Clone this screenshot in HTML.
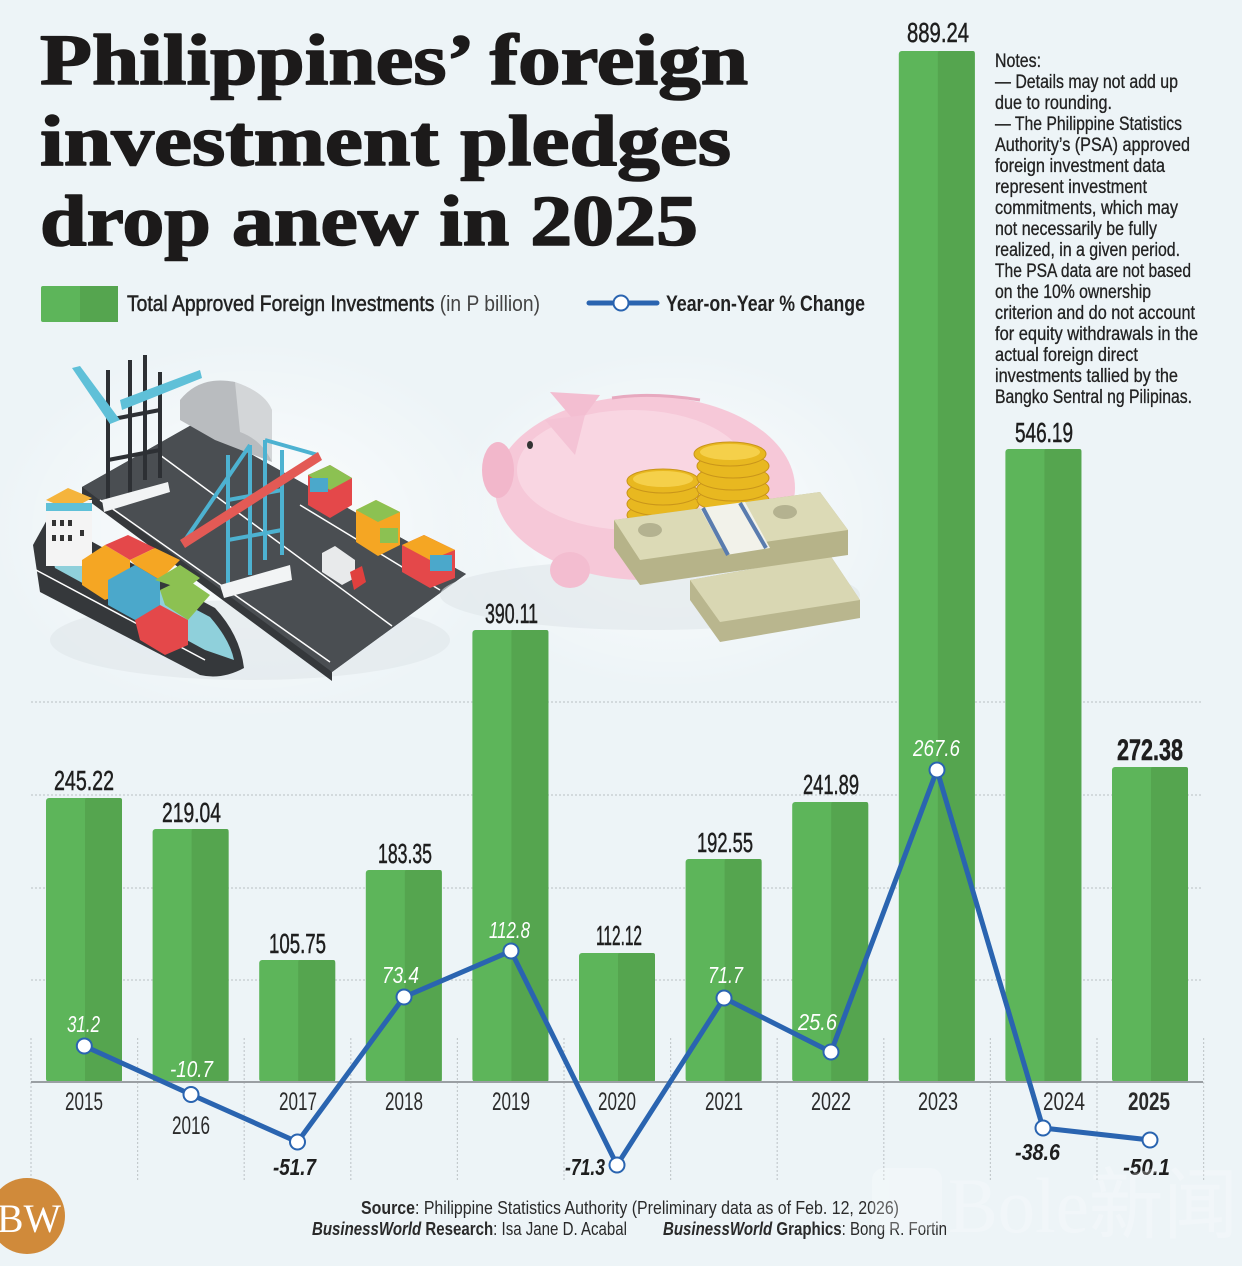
<!DOCTYPE html>
<html><head><meta charset="utf-8"><style>
html,body{margin:0;padding:0;background:#edf4f7;}
svg{display:block;}
.c{font-family:"Liberation Sans Narrow","Liberation Sans",sans-serif;}
</style></head><body>
<svg width="1242" height="1266" viewBox="0 0 1242 1266" xmlns="http://www.w3.org/2000/svg">
<defs>
<radialGradient id="glow" cx="50%" cy="50%" r="50%">
<stop offset="0" stop-color="#ffffff" stop-opacity="0.85"/>
<stop offset="1" stop-color="#ffffff" stop-opacity="0"/>
</radialGradient>
</defs>
<rect width="1242" height="1266" fill="#edf4f7"/>
<ellipse cx="250" cy="530" rx="260" ry="190" fill="url(#glow)"/>
<ellipse cx="670" cy="520" rx="230" ry="170" fill="url(#glow)"/>

<!-- Title -->
<g font-family="'Liberation Serif',serif" font-weight="bold" font-size="72" fill="#1c1a1a" stroke="#1c1a1a" stroke-width="1.6" stroke-linejoin="round">
<text x="40" y="84" textLength="708" lengthAdjust="spacingAndGlyphs">Philippines’ foreign</text>
<text x="40" y="165" textLength="691" lengthAdjust="spacingAndGlyphs">investment pledges</text>
<text x="40" y="245" textLength="658" lengthAdjust="spacingAndGlyphs">drop anew in 2025</text>
</g>

<!-- Legend -->
<rect x="41" y="286" width="77" height="36" rx="2" fill="#5db55a"/>
<rect x="80" y="286" width="38" height="36" fill="#55a54f"/>
<text class="c" x="127" y="311" font-size="22" fill="#222" textLength="413" lengthAdjust="spacingAndGlyphs"><tspan stroke="#222" stroke-width="0.5">Total Approved Foreign Investments </tspan><tspan fill="#444">(in P billion)</tspan></text>
<line x1="589" y1="303" x2="657" y2="303" stroke="#2a64b0" stroke-width="5" stroke-linecap="round"/>
<circle cx="621" cy="303" r="7.5" fill="#fff" stroke="#2a64b0" stroke-width="2"/>
<text class="c" x="666" y="311" font-size="22" font-weight="bold" fill="#222" textLength="199" lengthAdjust="spacingAndGlyphs">Year-on-Year % Change</text>

<!-- Notes -->
<g class="c" font-size="19" fill="#222" stroke="#222" stroke-width="0.3">
<text x="995" y="67" textLength="46" lengthAdjust="spacingAndGlyphs">Notes:</text>
<text x="995" y="88" textLength="183" lengthAdjust="spacingAndGlyphs">— Details may not add up</text>
<text x="995" y="109" textLength="117" lengthAdjust="spacingAndGlyphs">due to rounding.</text>
<text x="995" y="130" textLength="187" lengthAdjust="spacingAndGlyphs">— The Philippine Statistics</text>
<text x="995" y="151" textLength="195" lengthAdjust="spacingAndGlyphs">Authority’s (PSA) approved</text>
<text x="995" y="172" textLength="170" lengthAdjust="spacingAndGlyphs">foreign investment data</text>
<text x="995" y="193" textLength="152" lengthAdjust="spacingAndGlyphs">represent investment</text>
<text x="995" y="214" textLength="183" lengthAdjust="spacingAndGlyphs">commitments, which may</text>
<text x="995" y="235" textLength="162" lengthAdjust="spacingAndGlyphs">not necessarily be fully</text>
<text x="995" y="256" textLength="185" lengthAdjust="spacingAndGlyphs">realized, in a given period.</text>
<text x="995" y="277" textLength="196" lengthAdjust="spacingAndGlyphs">The PSA data are not based</text>
<text x="995" y="298" textLength="156" lengthAdjust="spacingAndGlyphs">on the 10% ownership</text>
<text x="995" y="319" textLength="200" lengthAdjust="spacingAndGlyphs">criterion and do not account</text>
<text x="995" y="340" textLength="203" lengthAdjust="spacingAndGlyphs">for equity withdrawals in the</text>
<text x="995" y="361" textLength="143" lengthAdjust="spacingAndGlyphs">actual foreign direct</text>
<text x="995" y="382" textLength="183" lengthAdjust="spacingAndGlyphs">investments tallied by the</text>
<text x="995" y="403" textLength="197" lengthAdjust="spacingAndGlyphs">Bangko Sentral ng Pilipinas.</text>
</g>

<!-- Port illustration -->
<g>
<ellipse cx="250" cy="640" rx="200" ry="40" fill="#dfe6ea" opacity="0.6"/>
<polygon points="82,487 195,423 466,574 332,672 332,681 82,496" fill="#35383b"/>
<polygon points="82,487 195,423 466,574 332,672" fill="#4a4e52"/>
<line x1="100" y1="500" x2="330" y2="662" stroke="#fff" stroke-width="1.5"/>
<line x1="160" y1="455" x2="392" y2="626" stroke="#fff" stroke-width="1.5"/>
<line x1="300" y1="505" x2="440" y2="590" stroke="#fff" stroke-width="1.5"/>
<!-- warehouse -->
<path d="M180,400 Q200,375 235,382 L272,410 L272,462 L215,440 L180,420 Z" fill="#b9bcbf"/>
<path d="M235,382 Q265,392 272,410 L272,462 Q262,440 240,432 Z" fill="#d3d6d8"/>
<!-- dark crane -->
<g stroke="#2d3034" stroke-width="4" fill="none">
<line x1="108" y1="370" x2="108" y2="500"/><line x1="130" y1="360" x2="130" y2="495"/>
<line x1="145" y1="355" x2="145" y2="480"/><line x1="160" y1="372" x2="160" y2="478"/>
<line x1="108" y1="420" x2="160" y2="410"/><line x1="108" y1="460" x2="160" y2="450"/>
</g>
<polygon points="72,368 80,366 120,420 110,424" fill="#5fc0d8"/>
<polygon points="120,400 200,370 202,378 122,410" fill="#5fc0d8"/>
<polygon points="102,500 168,482 170,492 104,512" fill="#f2f4f5"/>
<!-- cyan crane -->
<g stroke="#4db2d1" stroke-width="4" fill="none">
<line x1="228" y1="455" x2="228" y2="585"/><line x1="250" y1="445" x2="250" y2="575"/>
<line x1="265" y1="440" x2="265" y2="560"/><line x1="282" y1="450" x2="282" y2="555"/>
<line x1="228" y1="500" x2="282" y2="490"/><line x1="228" y1="540" x2="282" y2="530"/>
<line x1="185" y1="540" x2="250" y2="445"/><line x1="265" y1="440" x2="318" y2="455"/>
</g>
<polygon points="180,540 318,452 322,460 185,548" fill="#e35a55"/>
<polygon points="220,585 290,565 292,580 224,598" fill="#f2f4f5"/>
<!-- dock containers -->
<g>
<polygon points="308,475 330,465 352,478 352,505 330,518 308,505" fill="#e4484a"/>
<polygon points="308,475 330,465 352,478 330,490" fill="#8cc152"/>
<rect x="310" y="478" width="18" height="14" fill="#4ba8cb"/>
<polygon points="356,510 376,500 400,512 400,545 378,556 356,542" fill="#f5a623"/>
<polygon points="356,510 376,500 400,512 378,522" fill="#8cc152"/>
<rect x="380" y="528" width="18" height="15" fill="#8cc152"/>
<polygon points="402,545 424,535 455,550 455,578 430,588 402,572" fill="#e4484a"/>
<polygon points="402,545 424,535 455,550 430,560" fill="#f5a623"/>
<rect x="430" y="555" width="22" height="16" fill="#4ba8cb"/>
</g>
<!-- truck -->
<polygon points="322,553 335,546 355,560 355,578 342,585 322,572" fill="#e8eaeb"/>
<polygon points="350,572 362,566 366,582 354,590" fill="#e0403e"/>
<!-- ship -->
<path d="M33,545 L48,518 L215,608 Q240,635 244,668 Q222,680 200,675 L40,592 Z" fill="#35383b"/>
<path d="M46,530 L210,617 Q230,640 234,660 L205,650 L55,568 Z" fill="#8fd0db"/>
<path d="M36,570 L205,660" stroke="#fff" stroke-width="1.5"/>
<rect x="46" y="500" width="46" height="66" fill="#f4f4f4"/>
<polygon points="46,500 68,488 92,498 70,510" fill="#f5b43c"/>
<rect x="46" y="503" width="46" height="8" fill="#5fc0d8"/>
<g fill="#333"><rect x="52" y="520" width="4" height="6"/><rect x="60" y="520" width="4" height="6"/><rect x="68" y="520" width="4" height="6"/><rect x="52" y="535" width="4" height="6"/><rect x="60" y="535" width="4" height="6"/><rect x="68" y="535" width="4" height="6"/><rect x="80" y="530" width="4" height="6"/></g>
<polygon points="82,560 105,545 130,560 130,590 105,600 82,585" fill="#f5a623"/>
<polygon points="105,545 128,535 155,548 130,560" fill="#e4484a"/>
<polygon points="108,580 135,565 160,580 160,610 135,620 108,605" fill="#4ba8cb"/>
<polygon points="130,560 155,548 180,560 160,580 135,565" fill="#f5a623"/>
<polygon points="135,620 160,605 188,620 188,645 165,655 140,640" fill="#e4484a"/>
<polygon points="160,590 185,578 210,595 188,620 165,605" fill="#8cc152"/>
<polygon points="155,580 180,565 200,578 185,590" fill="#8cc152"/>
</g>

<!-- Piggy bank & money -->
<g>
<ellipse cx="650" cy="595" rx="210" ry="35" fill="#dfe6ea" opacity="0.6"/>
<ellipse cx="645" cy="488" rx="150" ry="92" fill="#f6c8d8"/>
<ellipse cx="632" cy="470" rx="115" ry="60" fill="#f9d6e2"/>
<ellipse cx="498" cy="470" rx="16" ry="28" fill="#f2b7cb"/>
<polygon points="550,392 600,395 578,425" fill="#f3bed1"/>
<polygon points="545,420 585,415 575,455" fill="#f4c3d5"/>
<ellipse cx="530" cy="445" rx="3" ry="4" fill="#333"/>
<ellipse cx="570" cy="570" rx="20" ry="18" fill="#f3bdd0"/>
<path d="M612,398 Q650,392 700,400" stroke="#e7a9bf" stroke-width="3" fill="none"/>
<!-- coins -->
<g fill="#e8b820" stroke="#c9951a" stroke-width="1">
<ellipse cx="663" cy="515" rx="36" ry="12"/><ellipse cx="663" cy="504" rx="36" ry="12"/><ellipse cx="663" cy="493" rx="36" ry="12"/><ellipse cx="663" cy="481" rx="36" ry="12"/>
<ellipse cx="733" cy="500" rx="36" ry="12"/><ellipse cx="733" cy="489" rx="36" ry="12"/><ellipse cx="733" cy="478" rx="36" ry="12"/><ellipse cx="733" cy="466" rx="36" ry="12"/><ellipse cx="730" cy="454" rx="36" ry="12"/>
</g>
<ellipse cx="730" cy="452" rx="30" ry="8" fill="#f5d04a"/>
<ellipse cx="663" cy="479" rx="30" ry="8" fill="#f5d04a"/>
<!-- money stacks -->
<polygon points="690,580 830,555 860,600 860,618 720,642 690,600" fill="#b9b68e"/>
<polygon points="690,580 830,555 860,600 720,622" fill="#d9d7b3"/>
<polygon points="614,520 820,492 848,530 848,555 640,585 614,548" fill="#b6b389"/>
<polygon points="614,520 820,492 848,530 640,560" fill="#dcdab6"/>
<polygon points="700,508 745,502 770,548 726,555" fill="#f2f2ea"/>
<line x1="703" y1="508" x2="728" y2="555" stroke="#5a7cae" stroke-width="4"/>
<line x1="740" y1="503" x2="766" y2="548" stroke="#5a7cae" stroke-width="4"/>
<ellipse cx="650" cy="530" rx="12" ry="7" fill="#b4b290"/>
<ellipse cx="785" cy="512" rx="12" ry="7" fill="#b4b290"/>
</g>

<!-- Grid -->
<g stroke="#c4cacd" stroke-width="1.2" stroke-dasharray="2,2">
<line x1="31" y1="702" x2="1202" y2="702"/>
<line x1="31" y1="795" x2="1202" y2="795"/>
<line x1="31" y1="888" x2="1202" y2="888"/>
<line x1="31" y1="980" x2="1202" y2="980"/>
<line x1="31" y1="1038" x2="31" y2="1180"/><line x1="137.6" y1="1038" x2="137.6" y2="1180"/>
<line x1="244.2" y1="1038" x2="244.2" y2="1180"/><line x1="350.8" y1="1038" x2="350.8" y2="1180"/>
<line x1="457.4" y1="1038" x2="457.4" y2="1180"/><line x1="564" y1="1038" x2="564" y2="1180"/>
<line x1="670.6" y1="1038" x2="670.6" y2="1180"/><line x1="777.2" y1="1038" x2="777.2" y2="1180"/>
<line x1="883.8" y1="1038" x2="883.8" y2="1180"/><line x1="990.4" y1="1038" x2="990.4" y2="1180"/>
<line x1="1097" y1="1038" x2="1097" y2="1180"/><line x1="1203.6" y1="1038" x2="1203.6" y2="1180"/>
</g>

<!-- Bars -->
<g>
<rect x="46" y="798" width="76" height="284" rx="3" fill="#5db55a"/><rect x="85" y="798" width="37" height="284" fill="#55a54f" rx="2"/>
<rect x="152.6" y="829" width="76" height="253" rx="3" fill="#5db55a"/><rect x="191.6" y="829" width="37" height="253" fill="#55a54f" rx="2"/>
<rect x="259.2" y="960" width="76" height="122" rx="3" fill="#5db55a"/><rect x="298.2" y="960" width="37" height="122" fill="#55a54f" rx="2"/>
<rect x="365.8" y="870" width="76" height="212" rx="3" fill="#5db55a"/><rect x="404.8" y="870" width="37" height="212" fill="#55a54f" rx="2"/>
<rect x="472.4" y="630" width="76" height="452" rx="3" fill="#5db55a"/><rect x="511.4" y="630" width="37" height="452" fill="#55a54f" rx="2"/>
<rect x="579" y="953" width="76" height="129" rx="3" fill="#5db55a"/><rect x="618" y="953" width="37" height="129" fill="#55a54f" rx="2"/>
<rect x="685.6" y="859" width="76" height="223" rx="3" fill="#5db55a"/><rect x="724.6" y="859" width="37" height="223" fill="#55a54f" rx="2"/>
<rect x="792.2" y="802" width="76" height="280" rx="3" fill="#5db55a"/><rect x="831.2" y="802" width="37" height="280" fill="#55a54f" rx="2"/>
<rect x="898.8" y="51" width="76" height="1031" rx="3" fill="#5db55a"/><rect x="937.8" y="51" width="37" height="1031" fill="#55a54f" rx="2"/>
<rect x="1005.4" y="449" width="76" height="633" rx="3" fill="#5db55a"/><rect x="1044.4" y="449" width="37" height="633" fill="#55a54f" rx="2"/>
<rect x="1112" y="767" width="76" height="315" rx="3" fill="#5db55a"/><rect x="1151" y="767" width="37" height="315" fill="#55a54f" rx="2"/>
</g>
<line x1="31" y1="1082" x2="1203" y2="1082" stroke="#9a9fa3" stroke-width="2"/>

<!-- Value labels -->
<g class="c" font-size="28" fill="#1e1e1e" stroke="#1e1e1e" stroke-width="0.5">
<text x="54" y="790" textLength="60" lengthAdjust="spacingAndGlyphs">245.22</text>
<text x="162" y="822" textLength="59" lengthAdjust="spacingAndGlyphs">219.04</text>
<text x="269" y="953" textLength="57" lengthAdjust="spacingAndGlyphs">105.75</text>
<text x="378" y="863" textLength="54" lengthAdjust="spacingAndGlyphs">183.35</text>
<text x="485" y="623" textLength="53" lengthAdjust="spacingAndGlyphs">390.11</text>
<text x="596" y="945" textLength="46" lengthAdjust="spacingAndGlyphs">112.12</text>
<text x="697" y="852" textLength="56" lengthAdjust="spacingAndGlyphs">192.55</text>
<text x="803" y="794" textLength="56" lengthAdjust="spacingAndGlyphs">241.89</text>
<text x="907" y="42" textLength="62" lengthAdjust="spacingAndGlyphs">889.24</text>
<text x="1015" y="442" textLength="58" lengthAdjust="spacingAndGlyphs">546.19</text>
<text x="1117" y="760" font-size="30" font-weight="bold" textLength="66" lengthAdjust="spacingAndGlyphs">272.38</text>
</g>

<!-- Line series -->
<polyline points="84.3,1046 191,1094.5 297.5,1142 404,997 511,951 617,1165 724,998 831,1052 937,770 1043,1128 1150,1140" fill="none" stroke="#2a64b0" stroke-width="5" stroke-linejoin="round"/>
<g fill="#fff" stroke="#2a64b0" stroke-width="2">
<circle cx="84.3" cy="1046" r="7.5"/><circle cx="191" cy="1094.5" r="7.5"/><circle cx="297.5" cy="1142" r="7.5"/>
<circle cx="404" cy="997" r="7.5"/><circle cx="511" cy="951" r="7.5"/><circle cx="617" cy="1165" r="7.5"/>
<circle cx="724" cy="998" r="7.5"/><circle cx="831" cy="1052" r="7.5"/><circle cx="937" cy="770" r="7.5"/>
<circle cx="1043" cy="1128" r="7.5"/><circle cx="1150" cy="1140" r="7.5"/>
</g>

<!-- Percent labels -->
<g class="c" font-size="23" font-style="italic" fill="#ffffff">
<text x="67" y="1032" textLength="33" lengthAdjust="spacingAndGlyphs">31.2</text>
<text x="170" y="1077" textLength="43" lengthAdjust="spacingAndGlyphs">-10.7</text>
<text x="382" y="983" textLength="37" lengthAdjust="spacingAndGlyphs">73.4</text>
<text x="489" y="938" textLength="41" lengthAdjust="spacingAndGlyphs">112.8</text>
<text x="708" y="983" textLength="35" lengthAdjust="spacingAndGlyphs">71.7</text>
<text x="798" y="1030" textLength="39" lengthAdjust="spacingAndGlyphs">25.6</text>
<text x="913" y="756" textLength="47" lengthAdjust="spacingAndGlyphs">267.6</text>
</g>
<g class="c" font-size="23" font-style="italic" font-weight="bold" fill="#1e1e1e">
<text x="273" y="1175" textLength="43" lengthAdjust="spacingAndGlyphs">-51.7</text>
<text x="565" y="1175" textLength="40" lengthAdjust="spacingAndGlyphs">-71.3</text>
<text x="1015" y="1160" textLength="45" lengthAdjust="spacingAndGlyphs">-38.6</text>
<text x="1123" y="1175" textLength="47" lengthAdjust="spacingAndGlyphs">-50.1</text>
</g>

<!-- Year labels -->
<g class="c" font-size="25" fill="#2a2a2a">
<text x="65" y="1110" textLength="38" lengthAdjust="spacingAndGlyphs">2015</text>
<text x="172" y="1134" textLength="38" lengthAdjust="spacingAndGlyphs">2016</text>
<text x="279" y="1110" textLength="38" lengthAdjust="spacingAndGlyphs">2017</text>
<text x="385" y="1110" textLength="38" lengthAdjust="spacingAndGlyphs">2018</text>
<text x="492" y="1110" textLength="38" lengthAdjust="spacingAndGlyphs">2019</text>
<text x="598" y="1110" textLength="38" lengthAdjust="spacingAndGlyphs">2020</text>
<text x="705" y="1110" textLength="38" lengthAdjust="spacingAndGlyphs">2021</text>
<text x="811" y="1110" textLength="40" lengthAdjust="spacingAndGlyphs">2022</text>
<text x="918" y="1110" textLength="40" lengthAdjust="spacingAndGlyphs">2023</text>
<text x="1043" y="1110" textLength="42" lengthAdjust="spacingAndGlyphs">2024</text>
<text x="1128" y="1110" font-weight="bold" textLength="42" lengthAdjust="spacingAndGlyphs">2025</text>
</g>

<!-- Source -->
<g class="c" font-size="18" fill="#2a2a2a">
<text x="361" y="1214" textLength="538" lengthAdjust="spacingAndGlyphs"><tspan font-weight="bold">Source</tspan>: Philippine Statistics Authority (Preliminary data as of Feb. 12, 2026)</text>
<text x="312" y="1235" textLength="315" lengthAdjust="spacingAndGlyphs"><tspan font-weight="bold" font-style="italic">BusinessWorld</tspan><tspan font-weight="bold"> Research</tspan>: Isa Jane D. Acabal</text>
<text x="663" y="1235" textLength="284" lengthAdjust="spacingAndGlyphs"><tspan font-weight="bold" font-style="italic">BusinessWorld</tspan><tspan font-weight="bold"> Graphics</tspan>: Bong R. Fortin</text>
</g>

<!-- BW logo -->
<circle cx="27" cy="1216" r="38" fill="#d08a3a"/>
<text x="-3" y="1232" font-family="'Liberation Serif',serif" font-size="40" fill="#fff" textLength="64" lengthAdjust="spacingAndGlyphs">BW</text>

<!-- watermark -->
<g opacity="0.25">
<rect x="872" y="1168" width="70" height="62" rx="12" fill="#ffffff"/>
<text x="948" y="1232" font-family="'Liberation Serif','Noto Sans CJK SC',serif" font-size="78" fill="#ffffff" textLength="290" lengthAdjust="spacingAndGlyphs">Bole新闻</text>
</g>
</svg>
</body></html>
